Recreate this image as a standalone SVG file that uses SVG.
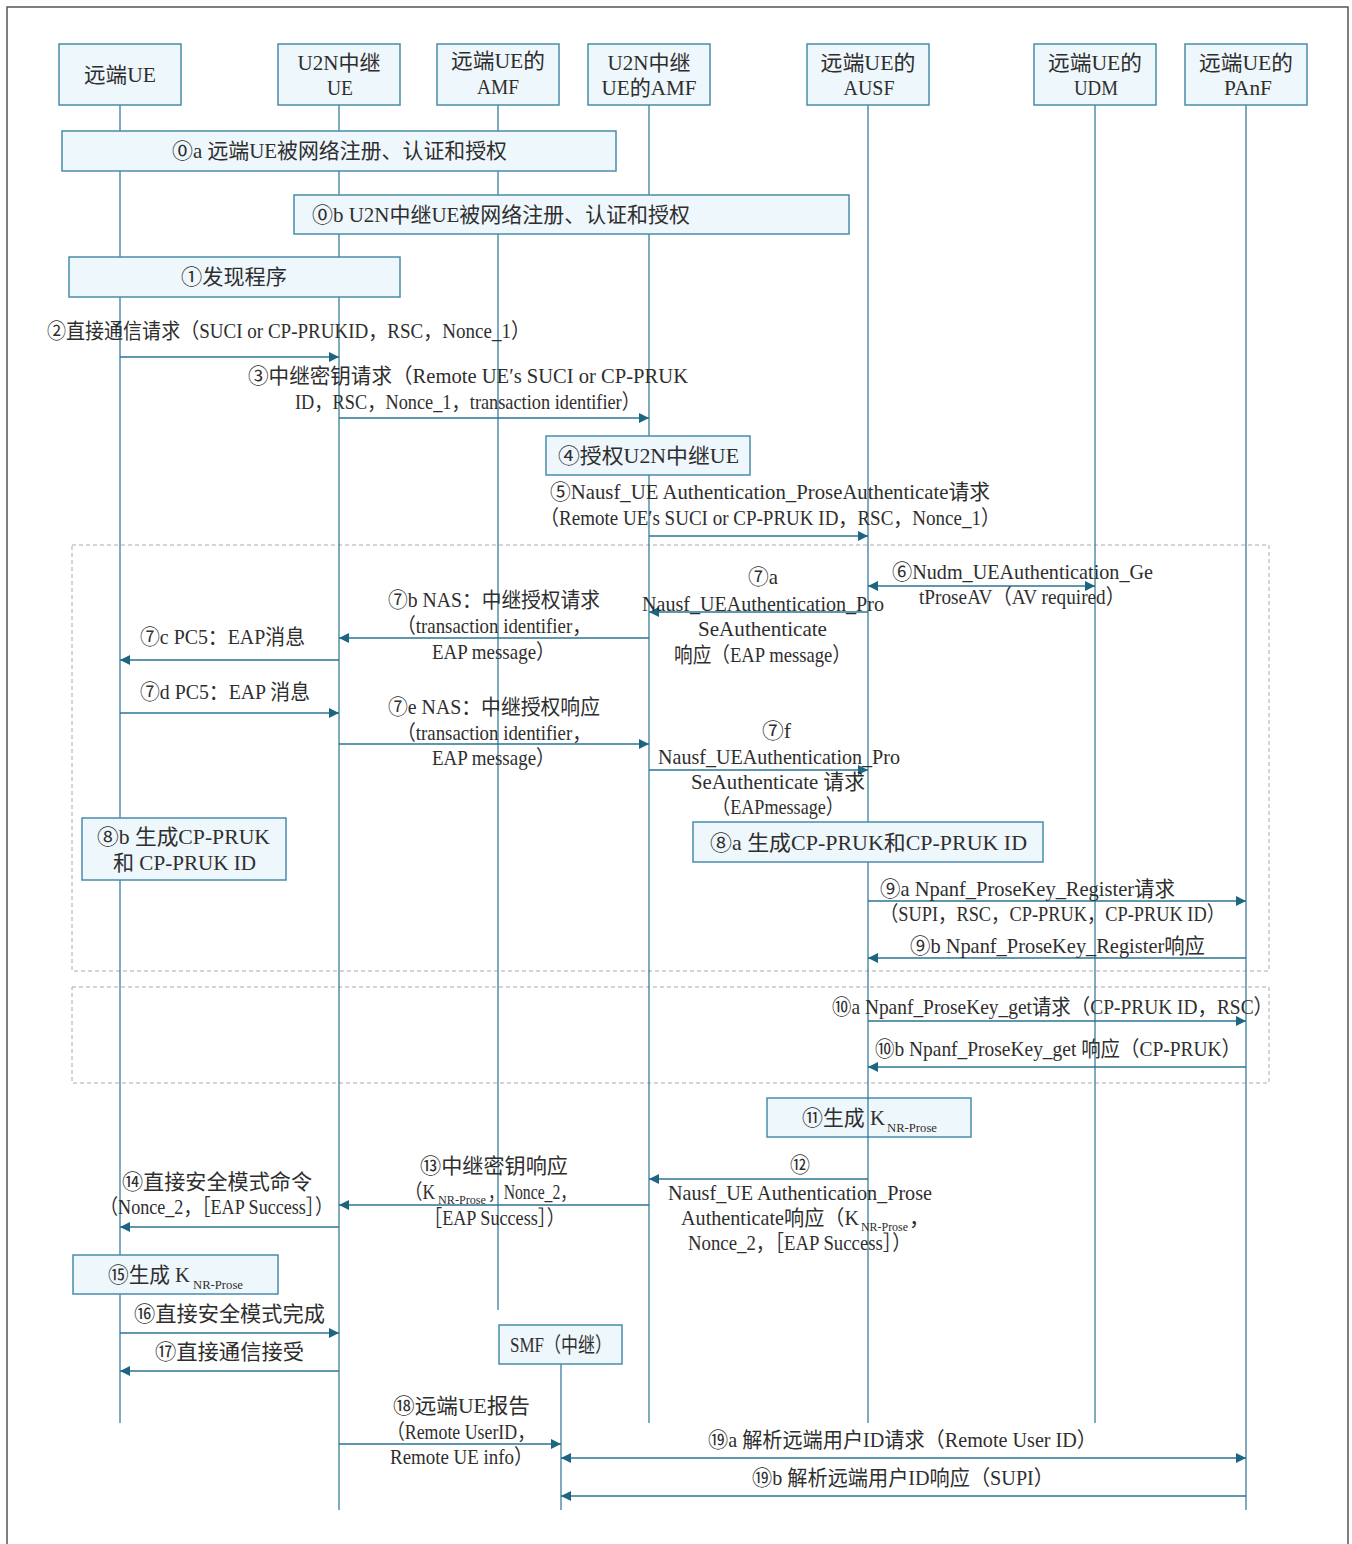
<svg xmlns="http://www.w3.org/2000/svg" width="1352" height="1544" viewBox="0 0 1352 1544">
  <style>
    .t { font-family: "Liberation Serif", "Noto Sans CJK SC", serif; font-size: 21px; fill: #2e2e2e; }
    .c { text-anchor: middle; }
    .e { text-anchor: end; }
    .sub { font-family: "Liberation Serif", "Noto Sans CJK SC", serif; font-size: 12px; fill: #2e2e2e; }
    .box { fill: #eef7fc; stroke: #4a8cab; stroke-width: 1.5; }
    .life { stroke: #2b7393; stroke-width: 1.2; fill: none; }
    .msg { stroke: #2b7393; stroke-width: 1.6; fill: none; marker-end: url(#ah); }
    .both { marker-start: url(#ah); }
    .grp { fill: none; stroke: #aaa; stroke-width: 1; stroke-dasharray: 4 3; }
  </style>
  <defs>
    <marker id="ah" viewBox="0 0 10 10" refX="10" refY="5" markerWidth="10" markerHeight="10" markerUnits="userSpaceOnUse" orient="auto-start-reverse">
      <path d="M0,0 L10,5 L0,10 z" fill="#1c6681"/>
    </marker>
  </defs>

  <rect width="1352" height="1544" fill="#fff"/>
  <!-- outer frame -->
  <rect x="7" y="7" width="1341" height="1560" fill="none" stroke="#555" stroke-width="1.5"/>

  <!-- dashed grouping frames -->
  <rect class="grp" x="72" y="545" width="1197" height="426"/>
  <rect class="grp" x="72" y="987" width="1197" height="96"/>

  <!-- key derivation at AUSF: lifeline runs through this box -->
  <g id="step11">
    <rect class="box" x="767" y="1098" width="204" height="39"/>
    <text class="t" x="802" y="1125" textLength="83" lengthAdjust="spacingAndGlyphs">⑪生成 K</text>
    <text class="sub" x="887" y="1132" textLength="50" lengthAdjust="spacingAndGlyphs">NR-Prose</text>
  </g>

  <!-- lifelines -->
  <g id="lifelines">
    <line class="life" x1="120" y1="105" x2="120" y2="1423"/>
    <line class="life" x1="339" y1="105" x2="339" y2="1510"/>
    <line class="life" x1="498" y1="105" x2="498" y2="1310"/>
    <line class="life" x1="649" y1="105" x2="649" y2="1423"/>
    <line class="life" x1="868" y1="105" x2="868" y2="1423"/>
    <line class="life" x1="1095" y1="105" x2="1095" y2="1423"/>
    <line class="life" x1="1246" y1="105" x2="1246" y2="1510"/>
    <line class="life" x1="561" y1="1364" x2="561" y2="1510"/>
  </g>

  <!-- participants -->
  <g id="remote-ue">
    <rect class="box" x="59" y="44" width="122" height="61"/>
    <text class="t c" x="120" y="82" textLength="72" lengthAdjust="spacingAndGlyphs">远端UE</text>
  </g>
  <g id="relay-ue">
    <rect class="box" x="278" y="44" width="122" height="61"/>
    <text class="t c" x="339" y="70" textLength="83" lengthAdjust="spacingAndGlyphs">U2N中继</text>
    <text class="t c" x="340" y="95" textLength="26" lengthAdjust="spacingAndGlyphs">UE</text>
  </g>
  <g id="remote-amf">
    <rect class="box" x="437" y="44" width="122" height="61"/>
    <text class="t c" x="498" y="68" textLength="94" lengthAdjust="spacingAndGlyphs">远端UE的</text>
    <text class="t c" x="498" y="94" textLength="42" lengthAdjust="spacingAndGlyphs">AMF</text>
  </g>
  <g id="relay-amf">
    <rect class="box" x="588" y="44" width="122" height="61"/>
    <text class="t c" x="649" y="70" textLength="83" lengthAdjust="spacingAndGlyphs">U2N中继</text>
    <text class="t c" x="649" y="95" textLength="95" lengthAdjust="spacingAndGlyphs">UE的AMF</text>
  </g>
  <g id="ausf">
    <rect class="box" x="807" y="44" width="122" height="61"/>
    <text class="t c" x="868" y="70" textLength="95" lengthAdjust="spacingAndGlyphs">远端UE的</text>
    <text class="t c" x="869" y="95" textLength="51" lengthAdjust="spacingAndGlyphs">AUSF</text>
  </g>
  <g id="udm">
    <rect class="box" x="1034" y="44" width="122" height="61"/>
    <text class="t c" x="1095" y="70" textLength="94" lengthAdjust="spacingAndGlyphs">远端UE的</text>
    <text class="t c" x="1096" y="95" textLength="44" lengthAdjust="spacingAndGlyphs">UDM</text>
  </g>
  <g id="panf">
    <rect class="box" x="1185" y="44" width="122" height="61"/>
    <text class="t c" x="1246" y="70" textLength="94" lengthAdjust="spacingAndGlyphs">远端UE的</text>
    <text class="t c" x="1248" y="95" textLength="48" lengthAdjust="spacingAndGlyphs">PAnF</text>
  </g>
  <g id="smf">
    <rect class="box" x="499" y="1325" width="123" height="39"/>
    <text class="t c" x="561" y="1352" textLength="102" lengthAdjust="spacingAndGlyphs">SMF（中继）</text>
  </g>

  <!-- procedure boxes -->
  <g id="step0a">
    <rect class="box" x="62" y="131" width="554" height="40"/>
    <text class="t c" x="339.5" y="158" textLength="335" lengthAdjust="spacingAndGlyphs">⓪a 远端UE被网络注册、认证和授权</text>
  </g>
  <g id="step0b">
    <rect class="box" x="294" y="195" width="555" height="39"/>
    <text class="t c" x="501" y="222" textLength="378" lengthAdjust="spacingAndGlyphs">⓪b U2N中继UE被网络注册、认证和授权</text>
  </g>
  <g id="step1">
    <rect class="box" x="69" y="257" width="331" height="40"/>
    <text class="t c" x="234" y="284" textLength="106" lengthAdjust="spacingAndGlyphs">①发现程序</text>
  </g>
  <g id="step4">
    <rect class="box" x="546" y="436" width="204" height="39"/>
    <text class="t c" x="648.5" y="463" textLength="181" lengthAdjust="spacingAndGlyphs">④授权U2N中继UE</text>
  </g>
  <g id="step8b">
    <rect class="box" x="82" y="818" width="204" height="62"/>
    <text class="t c" x="183.5" y="844" textLength="173" lengthAdjust="spacingAndGlyphs">⑧b 生成CP-PRUK</text>
    <text class="t c" x="184.5" y="870" textLength="143" lengthAdjust="spacingAndGlyphs">和 CP-PRUK ID</text>
  </g>
  <g id="step8a">
    <rect class="box" x="693" y="822" width="350" height="40"/>
    <text class="t c" x="868.5" y="850" textLength="317" lengthAdjust="spacingAndGlyphs">⑧a 生成CP-PRUK和CP-PRUK ID</text>
  </g>
  <g id="step15">
    <rect class="box" x="73" y="1255" width="205" height="39"/>
    <text class="t" x="108" y="1282" textLength="82" lengthAdjust="spacingAndGlyphs">⑮生成 K</text>
    <text class="sub" x="193" y="1289" textLength="50" lengthAdjust="spacingAndGlyphs">NR-Prose</text>
  </g>

  <!-- messages -->
  <g id="connectors">
    <line class="msg" x1="120" y1="357" x2="339" y2="357"/>
    <line class="msg" x1="339" y1="418" x2="649" y2="418"/>
    <line class="msg" x1="649" y1="536" x2="868" y2="536"/>
    <line class="msg both" x1="868" y1="586" x2="1095" y2="586"/>
    <line class="msg" x1="868" y1="612" x2="649" y2="612"/>
    <line class="msg" x1="649" y1="638" x2="339" y2="638"/>
    <line class="msg" x1="339" y1="660" x2="120" y2="660"/>
    <line class="msg" x1="120" y1="713" x2="339" y2="713"/>
    <line class="msg" x1="339" y1="744" x2="649" y2="744"/>
    <line class="msg" x1="649" y1="770" x2="868" y2="770"/>
    <line class="msg" x1="868" y1="901" x2="1246" y2="901"/>
    <line class="msg" x1="1246" y1="958" x2="868" y2="958"/>
    <line class="msg" x1="868" y1="1021" x2="1246" y2="1021"/>
    <line class="msg" x1="1246" y1="1067" x2="868" y2="1067"/>
    <line class="msg" x1="868" y1="1179" x2="649" y2="1179"/>
    <line class="msg" x1="649" y1="1205" x2="339" y2="1205"/>
    <line class="msg" x1="339" y1="1227" x2="120" y2="1227"/>
    <line class="msg" x1="120" y1="1333" x2="339" y2="1333"/>
    <line class="msg" x1="339" y1="1371" x2="120" y2="1371"/>
    <line class="msg" x1="339" y1="1444" x2="561" y2="1444"/>
    <line class="msg both" x1="561" y1="1458" x2="1246" y2="1458"/>
    <line class="msg" x1="1246" y1="1496" x2="561" y2="1496"/>
  </g>

  <!-- message labels -->
  <g id="labels">
    <text class="t c" x="288.5" y="338" textLength="483" lengthAdjust="spacingAndGlyphs">②直接通信请求（SUCI or CP-PRUKID，RSC，Nonce_1）</text>

    <text class="t c" x="468" y="383" textLength="440" lengthAdjust="spacingAndGlyphs">③中继密钥请求（Remote UE′s SUCI or CP-PRUK</text>
    <text class="t c" x="467.5" y="409" textLength="345" lengthAdjust="spacingAndGlyphs">ID，RSC，Nonce_1，transaction identifier）</text>

    <text class="t c" x="770" y="499" textLength="440" lengthAdjust="spacingAndGlyphs">⑤Nausf_UE Authentication_ProseAuthenticate请求</text>
    <text class="t c" x="770" y="525" textLength="460" lengthAdjust="spacingAndGlyphs">（Remote UE′s SUCI or CP-PRUK ID，RSC，Nonce_1）</text>

    <text class="t c" x="1022.5" y="579" textLength="261" lengthAdjust="spacingAndGlyphs">⑥Nudm_UEAuthentication_Ge</text>
    <text class="t c" x="1022" y="604" textLength="206" lengthAdjust="spacingAndGlyphs">tProseAV（AV required）</text>

    <text class="t c" x="763" y="584" textLength="30" lengthAdjust="spacingAndGlyphs">⑦a</text>
    <text class="t c" x="763" y="611" textLength="242" lengthAdjust="spacingAndGlyphs">Nausf_UEAuthentication_Pro</text>
    <text class="t c" x="762.5" y="636" textLength="129" lengthAdjust="spacingAndGlyphs">SeAuthenticate</text>
    <text class="t c" x="762.5" y="662" textLength="177" lengthAdjust="spacingAndGlyphs">响应（EAP message）</text>

    <text class="t c" x="494" y="607" textLength="212" lengthAdjust="spacingAndGlyphs">⑦b NAS：中继授权请求</text>
    <text class="t c" x="494" y="633" textLength="194" lengthAdjust="spacingAndGlyphs">（transaction identifier，</text>
    <text class="t c" x="493.5" y="659" textLength="123" lengthAdjust="spacingAndGlyphs">EAP message）</text>

    <text class="t c" x="222.5" y="644" textLength="165" lengthAdjust="spacingAndGlyphs">⑦c PC5：EAP消息</text>
    <text class="t c" x="225" y="699" textLength="170" lengthAdjust="spacingAndGlyphs">⑦d PC5：EAP 消息</text>

    <text class="t c" x="494" y="714" textLength="212" lengthAdjust="spacingAndGlyphs">⑦e NAS：中继授权响应</text>
    <text class="t c" x="494" y="740" textLength="194" lengthAdjust="spacingAndGlyphs">（transaction identifier，</text>
    <text class="t c" x="493.5" y="765" textLength="123" lengthAdjust="spacingAndGlyphs">EAP message）</text>

    <text class="t c" x="776.5" y="738" textLength="29" lengthAdjust="spacingAndGlyphs">⑦f</text>
    <text class="t c" x="779" y="764" textLength="242" lengthAdjust="spacingAndGlyphs">Nausf_UEAuthentication_Pro</text>
    <text class="t c" x="778" y="789" textLength="174" lengthAdjust="spacingAndGlyphs">SeAuthenticate 请求</text>
    <text class="t c" x="778" y="814" textLength="132" lengthAdjust="spacingAndGlyphs">（EAPmessage）</text>

    <text class="t" x="880" y="896" textLength="295" lengthAdjust="spacingAndGlyphs">⑨a Npanf_ProseKey_Register请求</text>
    <text class="t" x="880" y="921" textLength="345" lengthAdjust="spacingAndGlyphs">（SUPI，RSC，CP-PRUK，CP-PRUK ID）</text>
    <text class="t" x="910" y="953" textLength="295" lengthAdjust="spacingAndGlyphs">⑨b Npanf_ProseKey_Register响应</text>

    <text class="t" x="832" y="1014" textLength="441" lengthAdjust="spacingAndGlyphs">⑩a  Npanf_ProseKey_get请求（CP-PRUK ID，RSC）</text>
    <text class="t" x="875" y="1056" textLength="366" lengthAdjust="spacingAndGlyphs">⑩b Npanf_ProseKey_get 响应（CP-PRUK）</text>

    <text class="t c" x="800" y="1172" textLength="20" lengthAdjust="spacingAndGlyphs">⑫</text>
    <text class="t c" x="800" y="1200" textLength="264" lengthAdjust="spacingAndGlyphs">Nausf_UE Authentication_Prose</text>
    <text class="t" x="681" y="1225" textLength="178" lengthAdjust="spacingAndGlyphs">Authenticate响应（K</text>
    <text class="sub" x="861" y="1231" textLength="47" lengthAdjust="spacingAndGlyphs">NR-Prose</text>
    <text class="t" x="909" y="1225">，</text>
    <text class="t c" x="799.5" y="1250" textLength="223" lengthAdjust="spacingAndGlyphs">Nonce_2，［EAP Success］）</text>

    <text class="t c" x="494" y="1173" textLength="148" lengthAdjust="spacingAndGlyphs">⑬中继密钥响应</text>
    <text class="t e" x="435" y="1199" textLength="30" lengthAdjust="spacingAndGlyphs">（K</text>
    <text class="sub" x="438" y="1204" textLength="48" lengthAdjust="spacingAndGlyphs">NR-Prose</text>
    <text class="t" x="488" y="1199" textLength="88" lengthAdjust="spacingAndGlyphs">，Nonce_2，</text>
    <text class="t c" x="494.5" y="1225" textLength="141" lengthAdjust="spacingAndGlyphs">［EAP Success］）</text>

    <text class="t c" x="217" y="1189" textLength="190" lengthAdjust="spacingAndGlyphs">⑭直接安全模式命令</text>
    <text class="t c" x="216.5" y="1214" textLength="233" lengthAdjust="spacingAndGlyphs">（Nonce_2，［EAP Success］）</text>

    <text class="t c" x="229.5" y="1321" textLength="191" lengthAdjust="spacingAndGlyphs">⑯直接安全模式完成</text>
    <text class="t c" x="229.5" y="1359" textLength="149" lengthAdjust="spacingAndGlyphs">⑰直接通信接受</text>

    <text class="t c" x="461.5" y="1413" textLength="137" lengthAdjust="spacingAndGlyphs">⑱远端UE报告</text>
    <text class="t c" x="461" y="1439" textLength="148" lengthAdjust="spacingAndGlyphs">（Remote UserID，</text>
    <text class="t c" x="461.5" y="1464" textLength="143" lengthAdjust="spacingAndGlyphs">Remote UE info）</text>

    <text class="t c" x="902.5" y="1447" textLength="389" lengthAdjust="spacingAndGlyphs">⑲a 解析远端用户ID请求（Remote User ID）</text>
    <text class="t c" x="903" y="1485" textLength="302" lengthAdjust="spacingAndGlyphs">⑲b 解析远端用户ID响应（SUPI）</text>
  </g>
</svg>
